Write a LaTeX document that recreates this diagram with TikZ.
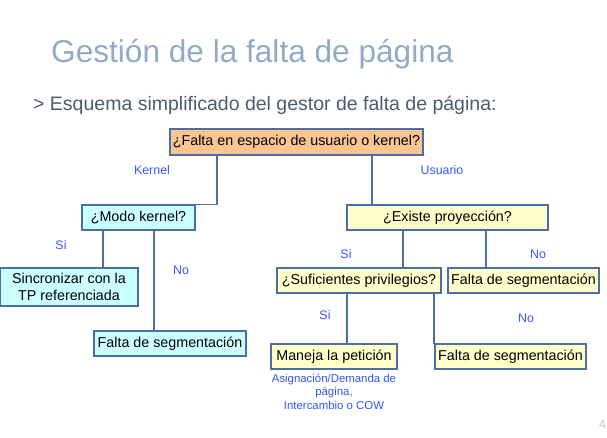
\documentclass[tikz,border=0pt]{standalone}
\usepackage{fontspec}
\setmainfont{Liberation Sans}
\usetikzlibrary{positioning}
\definecolor{borde}{HTML}{4A6EA6}
\definecolor{naranja}{HTML}{FAC591}
\definecolor{celeste}{HTML}{CCFFFF}
\definecolor{crema}{HTML}{FFFFCC}
\definecolor{azul}{HTML}{3355FF}
\definecolor{titulo}{HTML}{91ABC6}
\definecolor{subtit}{HTML}{4B5C70}
\def\fcaja{\fontsize{14.3}{16.7}\selectfont}
\def\fetiq{\fontsize{12.4}{14}\selectfont}
\def\fnota{\fontsize{11.4}{13.6}\selectfont}

\begin{document}
\begin{tikzpicture}[x=1pt,y=-1pt,on grid,auto,
	caja/.style={draw=borde,line width=1.2pt,minimum height=25pt,inner sep=1pt,font=\fcaja,align=center},
	pregunta/.style={caja,fill=crema},
	modo/.style={caja,fill=celeste},
	etiq/.style={text=azul,font=\fetiq},
	linea/.style={draw=borde,line width=1.2pt}]
\useasboundingbox (0,0) rectangle (607,437);
% titulo
\node[anchor=base west,text=titulo,font=\fontsize{31.6}{36}\selectfont,inner sep=0pt]	(tit)	at (51,62)	{Gestión de la falta de página};
\node[anchor=base west,text=subtit,font=\fontsize{19.5}{23}\selectfont,inner sep=0pt]	(sub)	at (33,110)	{> Esquema simplificado del gestor de falta de página:};
% cajas
\node[caja,fill=naranja,minimum width=253pt,minimum height=26pt]	(q_esp)		at (296.5,142)						{¿Falta en espacio de usuario o kernel?};
\node[modo,minimum width=113pt]										(q_modo)	[below left=75.5pt and 158pt of q_esp]	{¿Modo kernel?};
\node[pregunta,minimum width=201pt]									(q_proy)	[below right=75.5pt and 151pt of q_esp]	{¿Existe proyección?};
\node[modo,minimum width=138pt,minimum height=38pt]					(r_sinc)	[below left=69.5pt and 69.5pt of q_modo]	{Sincronizar con la\\TP referenciada};
\node[modo,minimum width=152pt]										(r_seg1)	[below right=126pt and 31.5pt of q_modo]	{Falta de segmentación};
\node[pregunta,minimum width=164pt]									(q_priv)	[below left=63pt and 88.5pt of q_proy]	{¿Suficientes privilegios?};
\node[pregunta,minimum width=151pt]									(r_seg2)	[below right=63pt and 76pt of q_proy]	{Falta de segmentación};
\node[pregunta,minimum width=126pt]									(r_man)		[below left=76pt and 25pt of q_priv]		{Maneja la petición};
\node[pregunta,minimum width=151pt]									(r_seg3)	[below right=76pt and 151.5pt of q_priv]	{Falta de segmentación};
\node[text=azul,font=\fnota,align=center]							(n_man)		[below=35pt of r_man]					{Asignación/Demanda de\\página,\\Intercambio o COW};
% conectores
\draw[linea] ([xshift=-79.5pt]q_esp.south)	|- (q_modo.north);
\draw[linea] ([xshift=75.5pt]q_esp.south)	|- (q_proy.north);
\draw[linea] ([xshift=-35.5pt]q_modo.south)	|- (r_sinc.north);
\draw[linea] ([xshift=15.5pt]q_modo.south)	|- (r_seg1.north);
\draw[linea] ([xshift=-44.5pt]q_proy.south)	|- (q_priv.north);
\draw[linea] ([xshift=38.5pt]q_proy.south)	|- (r_seg2.north);
\draw[linea] ([xshift=-12pt]q_priv.south)	|- (r_man.north);
\draw[linea] ([xshift=75pt]q_priv.south)	|- (r_seg3.north);
% etiquetas
\node[etiq]	(e_kernel)	at (152,170)	{Kernel};
\node[etiq]	(e_usuario)	at (442,170)	{Usuario};
\node[etiq]	(e_si1)		at (61,245)		{Si};
\node[etiq]	(e_no1)		at (181,270)	{No};
\node[etiq]	(e_si2)		at (346,254)	{Si};
\node[etiq]	(e_no2)		at (538,254)	{No};
\node[etiq]	(e_si3)		at (325,315)	{Si};
\node[etiq]	(e_no3)		at (526,318)	{No};
\node[text=gray!45,font=\fontsize{12}{14}\selectfont,anchor=base east,inner sep=0pt]	(pag)	at (606,428)	{4};
\end{tikzpicture}
\end{document}
